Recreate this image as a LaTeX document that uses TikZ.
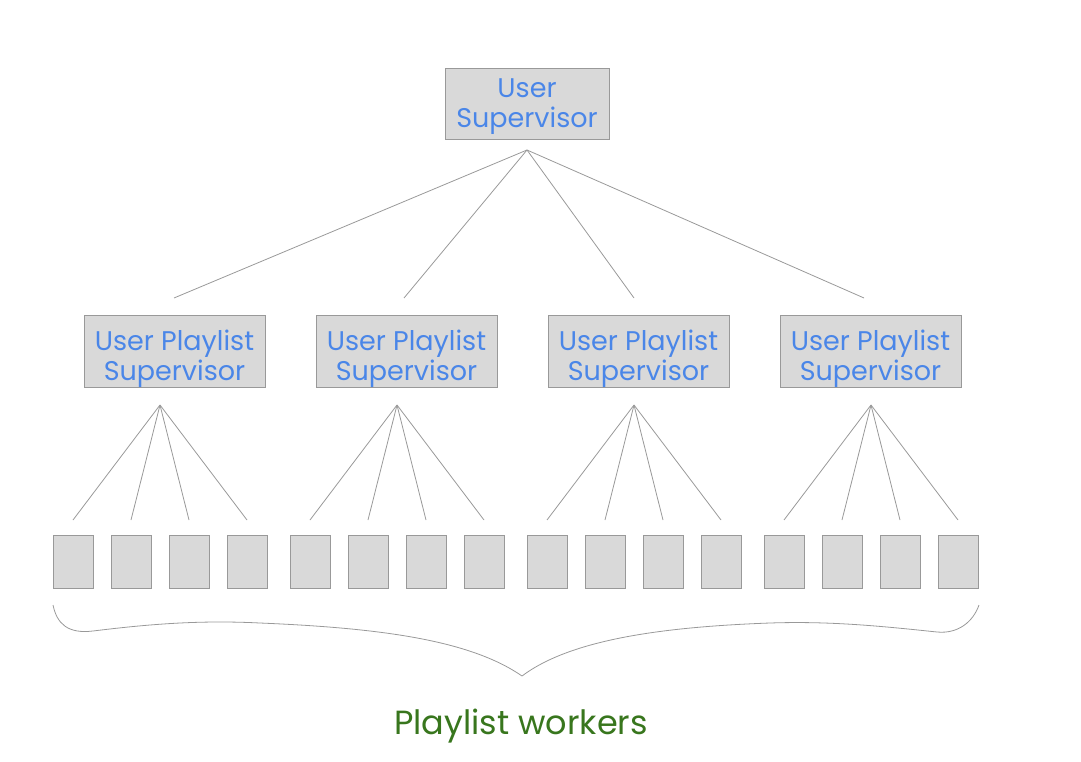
\documentclass[tikz,border=0pt]{standalone}
\usepackage{fontspec}
\setmainfont{Poppins}
\usetikzlibrary{positioning}
\definecolor{boxfill}{HTML}{D9D9D9}
\definecolor{boxline}{HTML}{999999}
\definecolor{labelblue}{HTML}{4A86E8}
\definecolor{labelgreen}{HTML}{38761D}
\tikzset{sup node/.style={rectangle,fill=boxfill,draw=boxline,line width=1pt,inner sep=0pt},
         sup text/.style={rectangle,draw=none,fill=none,inner sep=0pt,align=center,text=labelblue,
                          font=\fontsize{27}{30}\selectfont},
         worker/.style={rectangle,fill=boxfill,draw=boxline,line width=1pt,minimum width=40pt,minimum height=53pt,inner sep=0pt},
         link/.style={draw=boxline,line width=0.8pt},
         brace label/.style={rectangle,draw=none,fill=none,text=labelgreen,font=\fontsize{33.5}{38}\selectfont}
}
\begin{document}
\begin{tikzpicture}[x=1pt,y=-1pt]
\useasboundingbox (0,0) rectangle (1081,762);

\node [sup node, minimum width=164pt, minimum height=71pt,
       label={[sup text, yshift=-2pt]center:User\\Supervisor}] (0) at (527,104.5) {};
\coordinate (0a) at (527,150);

% user playlist supervisors
\node [sup node, minimum width=181pt, minimum height=72pt,
       label={[sup text, yshift=-8pt]center:User Playlist\\Supervisor}] (1) at (174.5,351) {};
\node [sup node, minimum width=181pt, minimum height=72pt,
       label={[sup text, yshift=-8pt]center:User Playlist\\Supervisor}] (2) at (406.5,351) {};
\node [sup node, minimum width=181pt, minimum height=72pt,
       label={[sup text, yshift=-8pt]center:User Playlist\\Supervisor}] (3) at (638.5,351) {};
\node [sup node, minimum width=181pt, minimum height=72pt,
       label={[sup text, yshift=-8pt]center:User Playlist\\Supervisor}] (4) at (870.5,351) {};
\coordinate (1t) at (174,298);
\coordinate (2t) at (404,298);
\coordinate (3t) at (634,298);
\coordinate (4t) at (864,298);
\draw [link] (0a) -- (1t);
\draw [link] (0a) -- (2t);
\draw [link] (0a) -- (3t);
\draw [link] (0a) -- (4t);

% playlist workers
\foreach \g/\cx in {1/160,2/397,3/634,4/871}{
    \coordinate (\g a) at (\cx,405);
    \foreach \w/\dx in {1/-87,2/-29,3/29,4/87}{
        \node [worker] (w\g\w) at (\cx+\dx,561.5) {};
        \coordinate (w\g\w t) at (\cx+\dx,520);
        \draw [link] (\g a) -- (w\g\w t);
    }
}

% brace
\coordinate (bl) at (53,605);
\coordinate (bt) at (522,676);
\coordinate (br) at (979,605);
\draw [link] (bl) .. controls (57,624) and (68,634) .. (93,631)
    .. controls (150,624) and (200,620) .. (260,623)
    .. controls (380,628) and (470,640) .. (bt)
    .. controls (570,640) and (660,627) .. (770,623)
    .. controls (830,621) and (880,626) .. (937,632)
    .. controls (958,634) and (973,622) .. (br);

\node [brace label] (5) at (521,726) {Playlist workers};
\end{tikzpicture}
\end{document}
